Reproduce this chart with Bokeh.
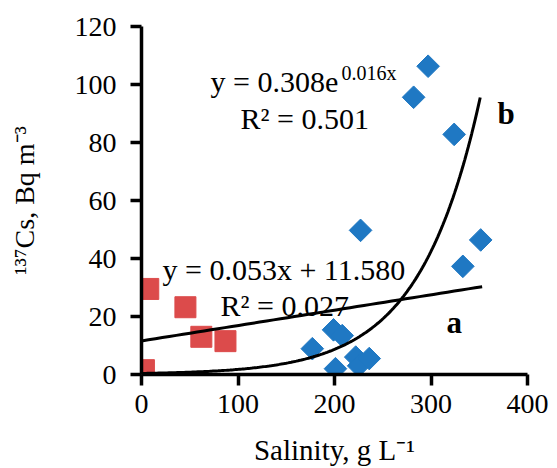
import numpy as np
from bokeh.plotting import figure
from bokeh.models import Range1d, Label, FixedTicker
from bokeh.embed import file_html
from bokeh.resources import INLINE

# ---- data ----
salinity_a = [7, 45.5, 62, 87, 2.5]
cs_a = [29.5, 23.2, 13.0, 11.5, 1.5]

salinity_b = [297, 282, 324, 227, 351.5, 333, 199, 208, 177, 201, 222, 225, 236]
cs_b = [106.3, 95.6, 82.8, 49.7, 46.4, 37.3, 15.4, 13.4, 8.9, 2.0, 6.0, 3.0, 5.5]

x_ticks = [0, 100, 200, 300, 400]
y_ticks = [0, 20, 40, 60, 80, 100, 120]

x_title = "Salinity, g L⁻¹"
y_title = "¹³⁷Cs, Bq m⁻³"

# trend lines
lin_slope, lin_icpt = 0.053, 11.580
lin_x_end = 353
exp_a, exp_k = 0.36, 0.0159   # curve as drawn in the picture
exp_x_end = 351

FONT = "Liberation Serif"

p = figure(width=557, height=468, output_backend="svg", toolbar_location=None,
           x_range=Range1d(0, 400), y_range=Range1d(0, 120),
           min_border_left=141, min_border_right=30, min_border_top=26,
           min_border_bottom=94)
p.outline_line_color = None
p.grid.visible = False
p.background_fill_color = "white"
p.border_fill_color = "white"

for ax, ticks in ((p.xaxis, x_ticks), (p.yaxis, y_ticks)):
    ax.ticker = FixedTicker(ticks=ticks)
    ax.axis_line_width = 3.5
    ax.axis_line_color = "black"
    ax.major_tick_line_width = 3.5
    ax.major_tick_line_color = "black"
    ax.major_tick_in = 0
    ax.major_tick_out = 11
    ax.minor_tick_line_color = None
    ax.major_label_text_font = FONT
    ax.major_label_text_font_size = "28px"
    ax.major_label_text_color = "black"
    ax.axis_label_text_font = FONT
    ax.axis_label_text_font_style = "normal"
    ax.axis_label_text_color = "black"
p.xaxis.major_label_standoff = 9
p.yaxis.major_label_standoff = 14
p.xaxis.axis_label = x_title
p.xaxis.axis_label_text_font_size = "29px"
p.xaxis.axis_label_standoff = 18
p.yaxis.axis_label = y_title
p.yaxis.axis_label_text_font_size = "28px"
p.yaxis.axis_label_standoff = 32

# markers
p.scatter(salinity_a, cs_a, marker="square", size=21, fill_color="#dc4b4b",
          line_color="#dc4b4b")
p.scatter(salinity_b, cs_b, marker="square", angle=np.pi / 4, size=16,
          fill_color="#1f78c3", line_color="#1f78c3")

# trend lines
xl = np.linspace(0, lin_x_end, 50)
p.line(xl, lin_slope * xl + lin_icpt, line_width=3, line_color="black")
xe = np.linspace(0, exp_x_end, 200)
p.line(xe, exp_a * np.exp(exp_k * xe), line_width=3, line_color="black")


def X(px):
    return (px - 141) / 0.965


def Y(py):
    return (374 - py) / 2.9


def lab(px, py, text, size, bold=False):
    p.add_layout(Label(x=X(px), y=Y(py), text=text, text_font=FONT,
                       text_font_size=f"{size}px", text_color="black",
                       text_font_style="bold" if bold else "normal",
                       text_align="left", text_baseline="alphabetic"))


lab(210, 81, "y = 0.308e", 30)
lab(341, 72, "0.016x", 20)
lab(240, 118, "R² = 0.501", 30)
lab(497, 113, "b", 31, bold=True)
lab(162, 269, "y = 0.053x + 11.580", 30)
lab(220, 305, "R² = 0.027", 30)
lab(446, 322, "a", 31, bold=True)

open("out.html", "w").write(file_html(p, INLINE))
